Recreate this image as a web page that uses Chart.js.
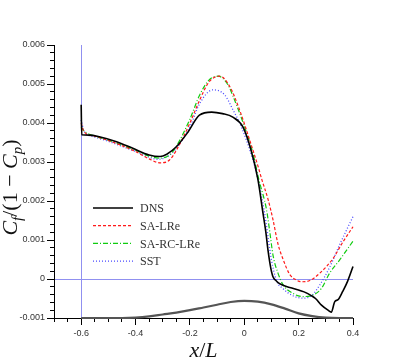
<!DOCTYPE html>
<html>
<head>
<meta charset="utf-8">
<script src="https://cdn.jsdelivr.net/npm/chart.js@4.4.0/dist/chart.umd.min.js"></script>
<style>
    body { margin: 0; background: #fff; }
</style>
</head>
<body>
<canvas id="myChart" width="404" height="360"></canvas>
<script>
const xTicks = [-0.6, -0.4, -0.2, 0, 0.2, 0.4];
const xTickLabels = ['-0.6', '-0.4', '-0.2', '0', '0.2', '0.4'];
const yTicks = [-0.001, 0, 0.001, 0.002, 0.003, 0.004, 0.005, 0.006];
const yTickLabels = ['-0.001', '0', '0.001', '0.002', '0.003', '0.004', '0.005', '0.006'];

const labels = ['DNS', 'SA-LRe', 'SA-RC-LRe', 'SST'];

const dnsX = [-0.6, -0.598, -0.57, -0.53, -0.47, -0.41, -0.35, -0.31, -0.285, -0.25, -0.21, -0.165, -0.12, -0.08, -0.042, -0.005, 0.025, 0.05, 0.069, 0.079, 0.088, 0.097, 0.106, 0.118, 0.13, 0.155, 0.19, 0.22, 0.245, 0.262, 0.284, 0.308, 0.32, 0.333, 0.345, 0.362, 0.38, 0.4];
const dnsY = [0.00447, 0.0037, 0.00369, 0.00364, 0.00352, 0.00335, 0.00318, 0.00314, 0.0032, 0.00339, 0.00374, 0.0042, 0.00428, 0.00424, 0.00415, 0.0039, 0.0033, 0.00256, 0.00168, 0.00122, 0.0007, 0.0003, 0.00005, -0.00005, -0.00012, -0.00019, -0.00026, -0.00033, -0.00042, -0.0005, -0.00067, -0.0008, -0.00085, -0.00058, -0.00053, -0.00032, -0.00006, 0.00032];

const saX = [-0.6, -0.59, -0.55, -0.5, -0.45, -0.4, -0.35, -0.31, -0.275, -0.25, -0.2, -0.164, -0.13, -0.09, -0.053, -0.017, 0.02, 0.051, 0.065, 0.088, 0.106, 0.124, 0.143, 0.167, 0.19, 0.21, 0.241, 0.278, 0.326, 0.363, 0.4];
const saY = [0.004, 0.00378, 0.00366, 0.00355, 0.00342, 0.00327, 0.00308, 0.00298, 0.00305, 0.0033, 0.004, 0.00459, 0.00505, 0.0052, 0.00493, 0.00433, 0.00356, 0.00288, 0.00254, 0.00203, 0.00151, 0.0009, 0.0005, 0.00012, -0.00002, -0.00007, -0.00004, 0.00015, 0.00052, 0.00095, 0.00134];

const sarcX = [-0.6, -0.59, -0.55, -0.5, -0.45, -0.4, -0.35, -0.31, -0.275, -0.25, -0.2, -0.164, -0.13, -0.096, -0.06, -0.041, -0.004, 0.032, 0.054, 0.082, 0.094, 0.106, 0.124, 0.143, 0.179, 0.216, 0.253, 0.284, 0.314, 0.351, 0.4];
const sarcY = [0.0039, 0.0038, 0.00366, 0.00356, 0.00343, 0.0033, 0.00315, 0.0031, 0.00318, 0.0034, 0.0041, 0.00472, 0.0051, 0.0052, 0.00498, 0.00468, 0.004, 0.00322, 0.00254, 0.00177, 0.0012, 0.0006, 0.00015, -0.00015, -0.00037, -0.00045, -0.00041, -0.00024, 0.00015, 0.00049, 0.00097];

const sstX = [-0.6, -0.59, -0.55, -0.5, -0.45, -0.4, -0.35, -0.32, -0.28, -0.25, -0.2, -0.164, -0.115, -0.072, -0.041, -0.017, 0.008, 0.032, 0.051, 0.075, 0.088, 0.1, 0.118, 0.143, 0.179, 0.216, 0.247, 0.278, 0.314, 0.351, 0.382, 0.4];
const sstY = [0.00408, 0.0038, 0.00364, 0.00353, 0.0034, 0.00327, 0.00312, 0.00307, 0.00315, 0.00335, 0.0039, 0.0045, 0.00485, 0.00472, 0.00433, 0.004, 0.00356, 0.00305, 0.00254, 0.00168, 0.00105, 0.00049, -0.00003, -0.00025, -0.00043, -0.00049, -0.00043, -0.00015, 0.0003, 0.00088, 0.00134, 0.0016];

// hill profile drawn along the bottom
const hillX = [-0.6, -0.45, -0.4, -0.35, -0.3, -0.25, -0.2, -0.15, -0.1, -0.05, 0, 0.05, 0.1, 0.15, 0.2, 0.25, 0.3, 0.35, 0.4];
const hillY = [-0.001, -0.001, -0.00099, -0.00096, -0.00091, -0.00086, -0.0008, -0.00073, -0.00066, -0.00059, -0.00056, -0.00058, -0.00065, -0.00076, -0.00088, -0.00095, -0.00099, -0.001, -0.001];

const refColor = '#9090f0';
const tickFont = { family: 'Liberation Sans', size: 9 };

function pts(xs, ys) {
    return xs.map((x, i) => ({ x: x, y: ys[i] }));
}

function serie(label, xs, ys, color, width, dash) {
    return {
        label: label,
        data: pts(xs, ys),
        borderColor: color,
        borderWidth: width,
        borderDash: dash,
        pointRadius: 0,
        cubicInterpolationMode: 'monotone',
        xAxisID: 'x',
        yAxisID: 'y',
        clip: 4
    };
}

const legendInside = {
    id: 'legendInside',
    afterDatasetsDraw(chart) {
        const ctx = chart.ctx;
        const area = chart.chartArea;
        ctx.save();
        ctx.font = '12px "Liberation Serif"';
        ctx.textBaseline = 'middle';
        chart.data.datasets.forEach((ds, i) => {
            if (!labels.includes(ds.label)) return;
            const y = area.top + 163 + i * 17.7;
            ctx.strokeStyle = ds.borderColor;
            ctx.lineWidth = ds.borderWidth;
            ctx.setLineDash(ds.borderDash);
            ctx.beginPath();
            ctx.moveTo(area.left + 39, y);
            ctx.lineTo(area.left + 79, y);
            ctx.stroke();
            ctx.setLineDash([]);
            ctx.fillStyle = '#333';
            ctx.fillText(ds.label, area.left + 86, y + 1);
        });
        ctx.restore();
    }
};

function drawRuns(ctx, runs) {
    let w = 0;
    runs.forEach(r => { ctx.font = r[1]; w += ctx.measureText(r[0]).width; });
    let x = -w / 2;
    runs.forEach(r => {
        ctx.font = r[1];
        ctx.fillText(r[0], x, r[2]);
        x += ctx.measureText(r[0]).width;
    });
}

const axisTitles = {
    id: 'axisTitles',
    afterDraw(chart) {
        const ctx = chart.ctx;
        const area = chart.chartArea;
        const it = 'italic 22px "Liberation Serif"';
        const up = '22px "Liberation Serif"';
        const sub = 'italic 15px "Liberation Serif"';
        ctx.save();
        ctx.fillStyle = '#111';
        ctx.textBaseline = 'alphabetic';
        ctx.translate((area.left + area.right) / 2, 357);
        drawRuns(ctx, [['x', it, 0], ['/', up, 0], ['L', it, 0]]);
        ctx.restore();

        ctx.save();
        ctx.fillStyle = '#111';
        ctx.textBaseline = 'alphabetic';
        ctx.translate(17, (area.top + area.bottom) / 2 + 6);
        ctx.rotate(-Math.PI / 2);
        drawRuns(ctx, [['C', it, 0], ['f', sub, 5], ['/(1 \u2212 ', up, 0], ['C', it, 0], ['p', sub, 5], [')', up, 0]]);
        ctx.restore();
    }
};

const config = {
    type: 'line',
    data: {
        datasets: [
            serie('DNS', dnsX, dnsY, '#000000', 1.6, []),
            serie('SA-LRe', saX, saY, '#ff1a1a', 1.2, [3, 2]),
            serie('SA-RC-LRe', sarcX, sarcY, '#10cc10', 1.2, [5, 2, 1, 2]),
            serie('SST', sstX, sstY, '#4a4aff', 1.3, [1, 2]),
            serie('hill', hillX, hillY, '#555555', 2.2, [])
        ]
    },
    options: {
        responsive: false,
        animation: false,
        layout: { padding: { left: 0, right: 51, top: 45, bottom: 0 } },
        plugins: {
            legend: { display: false },
            tooltip: { enabled: false }
        },
        scales: {
            x: {
                type: 'linear',
                position: 'bottom',
                min: -0.7,
                max: 0.4,
                afterBuildTicks: s => { s.ticks = xTicks.map(v => ({ value: v })); },
                afterFit: s => { s.height = 42; },
                ticks: {
                    callback: (v, i) => xTickLabels[i],
                    font: tickFont,
                    color: '#333',
                    padding: 3,
                    maxRotation: 0,
                    autoSkip: false
                },
                grid: {
                    color: ctx => (ctx.tick && ctx.tick.value === -0.6) ? refColor : 'rgba(0,0,0,0)',
                    tickColor: '#000',
                    tickLength: 7
                },
                border: { color: '#000', width: 1 }
            },
            y: {
                type: 'linear',
                position: 'left',
                min: -0.001,
                max: 0.006,
                afterBuildTicks: s => { s.ticks = yTicks.map(v => ({ value: v })); },
                afterFit: s => { s.width = 54; },
                ticks: {
                    callback: (v, i) => yTickLabels[i],
                    font: tickFont,
                    color: '#333',
                    padding: 2
                },
                grid: {
                    color: ctx => (ctx.tick && ctx.tick.value === 0) ? refColor : 'rgba(0,0,0,0)',
                    tickColor: '#000',
                    tickLength: 7
                },
                border: { color: '#000', width: 1 }
            },
            xm: {
                type: 'linear',
                axis: 'x',
                position: { y: -0.001 },
                min: -0.7,
                max: 0.4,
                ticks: { display: false, stepSize: 0.05 },
                grid: { drawOnChartArea: false, tickColor: '#000', tickLength: 4 },
                border: { display: false }
            },
            ym: {
                type: 'linear',
                axis: 'y',
                position: { x: -0.7 },
                min: -0.001,
                max: 0.006,
                ticks: { display: false, stepSize: 0.0002 },
                grid: { drawOnChartArea: false, tickColor: '#000', tickLength: 4 },
                border: { display: false }
            }
        }
    },
    plugins: [legendInside, axisTitles]
};

const myChart = new Chart(document.getElementById('myChart'), config);
</script>
</body>
</html>
